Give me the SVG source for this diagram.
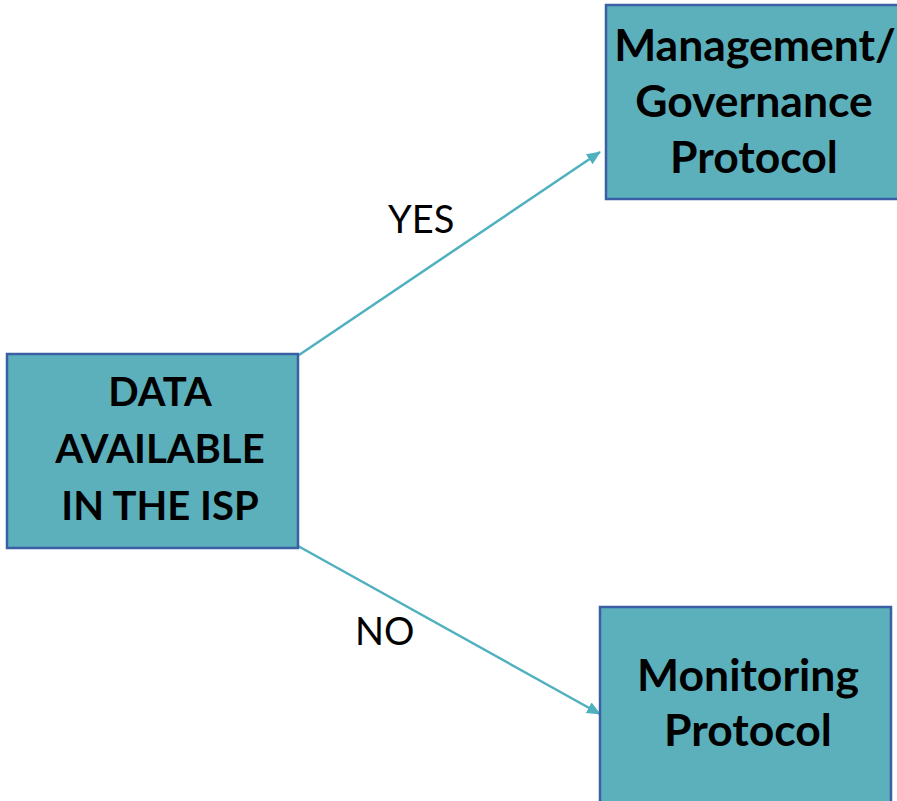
<svg xmlns="http://www.w3.org/2000/svg" width="897" height="801" viewBox="0 0 897 801">
<defs>
<style>
.box{fill:#5bb0bc;stroke:#3b5fa5;stroke-width:2.5}
.t{font-family:Lato,"Open Sans","Liberation Sans",sans-serif;font-weight:bold;font-size:40px;fill:#000;text-anchor:middle}
.big{font-size:44.5px}
.lbl{font-family:Lato,"Open Sans","Liberation Sans",sans-serif;font-size:38px;fill:#000}
.edge{stroke:#4fb0bf;stroke-width:2.5;fill:none;marker-end:url(#ah)}
</style>
<marker id="ah" markerWidth="14" markerHeight="12" refX="13" refY="6" orient="auto" markerUnits="userSpaceOnUse" viewBox="0 0 14 12">
<path d="M0,0 L14,6 L0,12 z" fill="#4fb0bf"/>
</marker>
</defs>
<rect width="897" height="801" fill="#fff"/>
<g id="edges">
<line class="edge" x1="299" y1="355" x2="600" y2="152"/>
<line class="edge" x1="298" y1="546" x2="600" y2="714"/>
<text class="lbl" x="388" y="233">YES</text>
<text class="lbl" x="355" y="645">NO</text>
</g>
<g id="data">
<rect class="box" x="7" y="354" width="291" height="194"/>
<text class="t" x="160" y="406">DATA</text>
<text class="t" x="160" y="463">AVAILABLE</text>
<text class="t" x="160" y="520">IN THE ISP</text>
</g>
<g id="management">
<rect class="box" x="606" y="5" width="300" height="194"/>
<text class="t big" x="755" y="61">Management/</text>
<text class="t big" x="754" y="117">Governance</text>
<text class="t big" x="754" y="173">Protocol</text>
</g>
<g id="monitoring">
<rect class="box" x="600" y="607" width="291" height="200"/>
<text class="t big" x="748" y="691">Monitoring</text>
<text class="t big" x="748" y="746">Protocol</text>
</g>
</svg>
